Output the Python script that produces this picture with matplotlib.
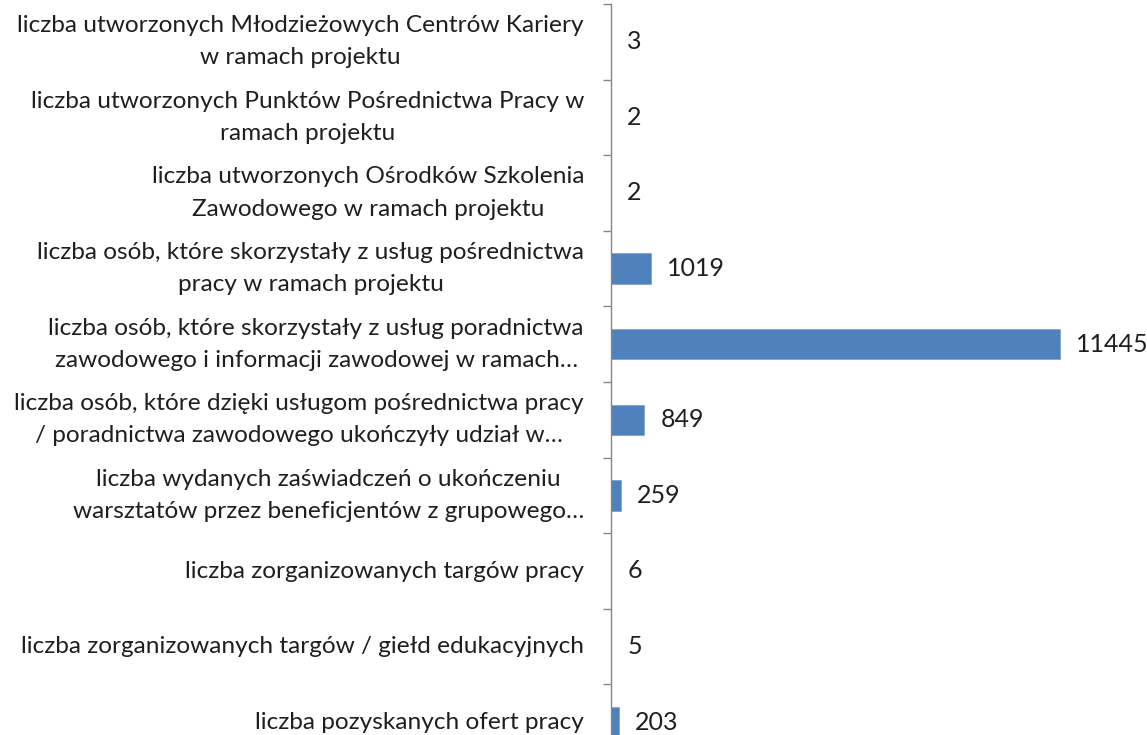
import matplotlib
matplotlib.use("Agg")
import matplotlib.pyplot as plt
import numpy as np

labels = [
    "liczba utworzonych Młodzieżowych Centrów Kariery\nw ramach projektu",
    "liczba utworzonych Punktów Pośrednictwa Pracy w\nramach projektu",
    "liczba utworzonych Ośrodków Szkolenia\nZawodowego w ramach projektu",
    "liczba osób, które skorzystały z usług pośrednictwa\npracy w ramach projektu",
    "liczba osób, które skorzystały z usług poradnictwa\nzawodowego i informacji zawodowej w ramach…",
    "liczba osób, które dzięki usługom pośrednictwa pracy\n/ poradnictwa zawodowego ukończyły udział w…",
    "liczba wydanych zaświadczeń o ukończeniu\nwarsztatów przez beneficjentów z grupowego…",
    "liczba zorganizowanych targów pracy",
    "liczba zorganizowanych targów / giełd edukacyjnych",
    "liczba pozyskanych ofert pracy",
]
values = [3, 2, 2, 1019, 11445, 849, 259, 6, 5, 203]

plt.rcParams["font.family"] = ["Lato", "DejaVu Sans"]
text_color = "#1f1f1f"

fig = plt.figure(figsize=(11.47, 7.35), dpi=100)
# chart is cropped at the bottom in the reference, so the axes run past the figure
ax = fig.add_axes([611 / 1147, -25 / 735, 536 / 1147, 756 / 735])

pos = np.arange(len(values))
ax.barh(pos, values, height=0.4, color="#4F81BD", edgecolor="#7FA3CF", linewidth=0.6)

for p, v in zip(pos, values):
    ax.annotate(str(v), (v, p), xytext=(16, 0), textcoords="offset pixels",
                va="center", ha="left", fontsize=18, color=text_color)

# category labels, right-aligned left of the axis line
for p, lab in zip(pos, labels):
    ax.annotate(lab, (0, p), xycoords=ax.get_yaxis_transform(),
                xytext=(-27, 0), textcoords="offset pixels",
                ha="right", va="center", multialignment="center",
                linespacing=1.66, fontsize=17.6, color=text_color)

ax.set_ylim(len(values) - 0.5, -0.5)
ax.set_xlim(0, 13662)

ax.set_yticks(np.arange(len(values) + 1) - 0.5)
ax.set_yticklabels([])
ax.tick_params(axis="y", length=6, width=1, color="#868686")

ax.set_xticks([])
for side in ["top", "right", "bottom"]:
    ax.spines[side].set_visible(False)
ax.spines["left"].set_color("#868686")
ax.spines["left"].set_linewidth(1)

fig.savefig("out.png", dpi=100)
